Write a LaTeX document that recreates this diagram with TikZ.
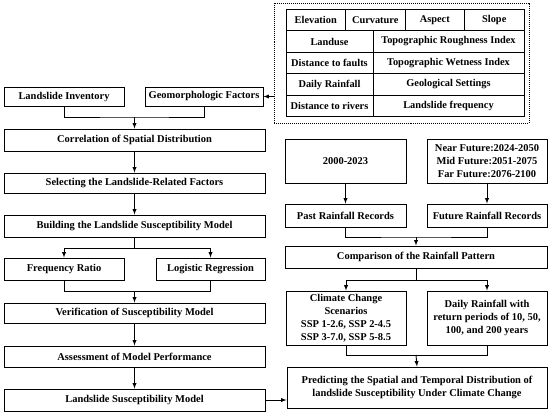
\documentclass[tikz,border=0pt]{standalone}
\usepackage{fontspec}
\setmainfont{Liberation Serif}
\usepackage{tikz}
\usetikzlibrary{calc}

\tikzset{
    stage/.style = {draw, line width = 0.9pt, align = center, inner sep = 1pt,
        font = \bfseries\fontsize{10.5}{13}\selectfont},
    cell/.style = {stage, font = \bfseries\fontsize{10.4}{12}\selectfont, minimum height = 21.5bp},
    link/.style = {line width = 0.9pt}
}

\begin{document}
\begin{tikzpicture}[x = 1bp, y = -1bp, >= latex]
            \useasboundingbox (0, 0) rectangle (550, 414);

            % factor table
            \node[draw, densely dotted, line width = 1pt, minimum width = 255bp, minimum height = 120bp] (factors) at (401.5, 63) {};
            \node[cell, minimum width = 59.5bp] (elev) at (315.75, 20.15) {Elevation};
            \node[cell, minimum width = 59.5bp] (curv) at (375.25, 20.15) {Curvature};
            \node[cell, minimum width = 59.5bp] (aspect) at (434.75, 20.15) {Aspect};
            \node[cell, minimum width = 59.5bp] (slope) at (494.25, 20.15) {Slope};
            \node[cell, minimum width = 87bp] (landuse) at (329.5, 41.5) {Landuse};
            \node[cell, minimum width = 151bp] (tri) at (448.5, 41.5) {Topographic Roughness Index};
            \node[cell, minimum width = 87bp] (faults) at (329.5, 63) {Distance to faults};
            \node[cell, minimum width = 151bp] (twi) at (448.5, 63) {Topographic Wetness Index};
            \node[cell, minimum width = 87bp] (rain) at (329.5, 84.5) {Daily Rainfall};
            \node[cell, minimum width = 151bp] (geo) at (448.5, 84.5) {Geological Settings};
            \node[cell, minimum width = 87bp] (rivers) at (329.5, 106) {Distance to rivers};
            \node[cell, minimum width = 151bp] (freq) at (448.5, 106) {Landslide frequency};

            % susceptibility branch
            \node[stage, minimum width = 120bp, minimum height = 19bp] (inventory) at (64, 96.5) {Landslide Inventory};
            \node[stage, minimum width = 118bp, minimum height = 19bp] (geomorph) at (204, 96.5) {Geomorphologic Factors};
            \node[stage, minimum width = 261bp, minimum height = 22bp] (correl) at (134.5, 140) {Correlation of Spatial Distribution};
            \node[stage, minimum width = 261bp, minimum height = 20bp] (select) at (134.5, 183) {Selecting the Landslide-Related Factors};
            \node[stage, minimum width = 261bp, minimum height = 22bp] (build) at (134.5, 226) {Building the Landslide Susceptibility Model};
            \node[stage, minimum width = 120bp, minimum height = 22bp] (fr) at (64, 269) {Frequency Ratio};
            \node[stage, minimum width = 109bp, minimum height = 22bp] (lr) at (210.5, 269) {Logistic Regression};
            \node[stage, minimum width = 261bp, minimum height = 20bp] (verif) at (134.5, 313) {Verification of Susceptibility Model};
            \node[stage, minimum width = 261bp, minimum height = 21bp] (assess) at (134.5, 356.5) {Assessment of Model Performance};
            \node[stage, minimum width = 261bp, minimum height = 22bp] (lsm) at (134.5, 400) {Landslide Susceptibility Model};

            % rainfall branch
            \node[stage, minimum width = 121bp, minimum height = 44bp] (period) at (345.5, 161) {2000-2023};
            \node[stage, minimum width = 120bp, minimum height = 44bp] (future) at (487, 161) {Near Future:2024-2050\\Mid Future:2051-2075\\Far Future:2076-2100};
            \node[stage, minimum width = 121bp, minimum height = 23bp] (past) at (345.5, 215.5) {Past Rainfall Records};
            \node[stage, minimum width = 120bp, minimum height = 23bp] (futrec) at (487, 215.5) {Future Rainfall Records};
            \node[stage, minimum width = 262bp, minimum height = 22bp] (compare) at (416, 257) {Comparison of the Rainfall Pattern};
            \node[stage, minimum width = 120bp, minimum height = 54bp] (ssp) at (346, 318) {Climate Change\\Scenarios\\SSP 1-2.6, SSP 2-4.5\\SSP 3-7.0, SSP 5-8.5};
            \node[stage, minimum width = 120bp, minimum height = 54bp] (daily) at (487, 318) {Daily Rainfall with\\return periods of 10, 50,\\100, and 200 years};
            \node[stage, minimum width = 260bp, minimum height = 41bp] (predict) at (417, 387.5) {Predicting the Spatial and Temporal Distribution of\\landslide Susceptibility Under Climate Change};

            % junctions
            \coordinate (j1) at (134.5, 117);
            \coordinate (j2) at (134.5, 248);
            \coordinate (j3) at (134.5, 291);
            \coordinate (j4) at (416, 237);
            \coordinate (j5) at (416, 280);
            \coordinate (j6) at (416, 355);

            % connectors
            \draw[link, ->] (factors.west |- geomorph.east) -- (geomorph.east);
            \draw[link] (inventory.south) |- (j1) -| (geomorph.south);
            \draw[link, ->] (j1) -- (correl.north);
            \draw[link, ->] (correl) -- (select);
            \draw[link, ->] (select) -- (build);
            \draw[link] (build.south) -- (j2);
            \draw[link, ->] (j2) -| (fr.north);
            \draw[link, ->] (j2) -| (lr.north);
            \draw[link] (fr.south) |- (j3) -| (lr.south);
            \draw[link, ->] (j3) -- (verif.north);
            \draw[link, ->] (verif) -- (assess);
            \draw[link, ->] (assess) -- (lsm);
            \draw[link, ->] (lsm.east) -- (lsm.east -| predict.west);

            \draw[link, ->] (period) -- (past);
            \draw[link, ->] (future) -- (futrec);
            \draw[link] (past.south) |- (j4) -| (futrec.south);
            \draw[link, ->] (j4) -- (compare.north);
            \draw[link] (compare.south) -- (j5);
            \draw[link, ->] (j5) -| (ssp.north);
            \draw[link, ->] (j5) -| (daily.north);
            \draw[link] (ssp.south) |- (j6) -| (daily.south);
            \draw[link, ->] (j6) -- (predict.north);
        \end{tikzpicture}
\end{document}
